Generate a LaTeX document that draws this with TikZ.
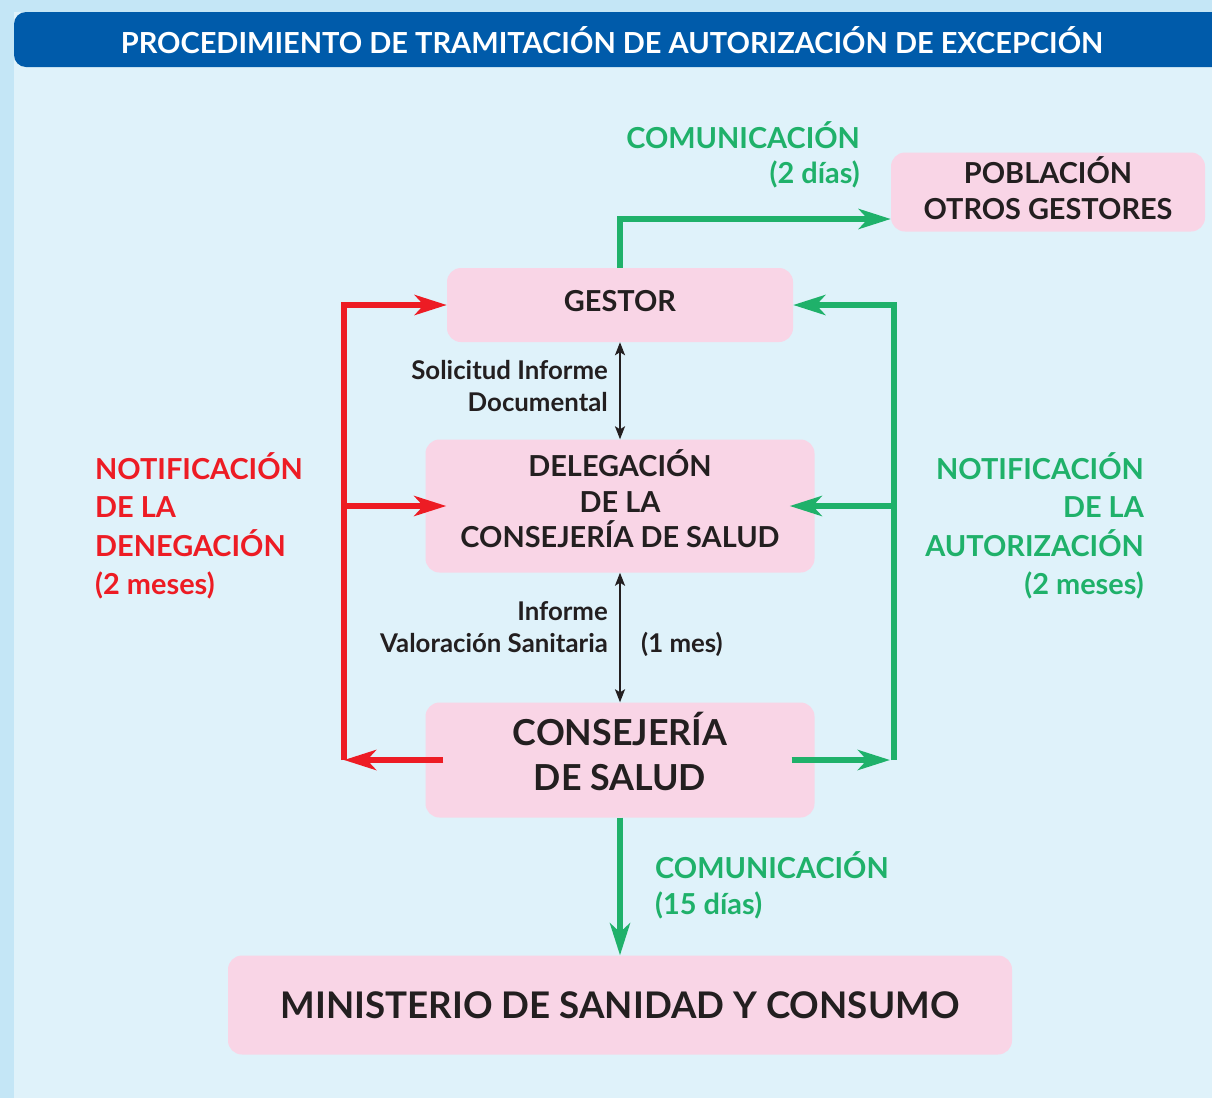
\documentclass[tikz,border=0pt]{standalone}
\usepackage{fontspec}
\setmainfont{Lato}
\usetikzlibrary{arrows.meta}

\definecolor{bgblue}{RGB}{196,230,246}
\definecolor{panelblue}{RGB}{223,242,250}
\definecolor{headblue}{RGB}{0,91,170}
\definecolor{boxpink}{RGB}{249,213,230}
\definecolor{denyred}{RGB}{237,28,36}
\definecolor{okgreen}{RGB}{31,177,106}
\definecolor{inkblack}{RGB}{35,31,32}

% extra depth under the last line, lifts the text in its box
\newcommand{\liftby}[1]{\rule[-#1]{0pt}{0pt}}

\begin{document}
\begin{tikzpicture}[x=1pt, y=-1pt,
          box/.style={fill=boxpink, rounded corners=14pt, inner sep=0pt, align=center, text=inkblack,
                      font=\bfseries\fontsize{28.9}{35.5}\selectfont},
          redtext/.style={text=denyred, inner sep=0pt, font=\bfseries\fontsize{28.9}{38.5}\selectfont},
          greentext/.style={text=okgreen, inner sep=0pt, font=\bfseries\fontsize{28.9}{38.5}\selectfont},
          note/.style={text=inkblack, inner sep=0pt, font=\bfseries\fontsize{25.8}{32}\selectfont},
          redarrow/.style={draw=denyred, line width=6.5pt, -{Stealth[length=32pt, width=20pt, inset=9pt]}},
          greenarrow/.style={draw=okgreen, line width=6.5pt, -{Stealth[length=32pt, width=20pt, inset=9pt]}},
          dblarrow/.style={draw=inkblack, line width=2pt, {Stealth[length=13pt, width=10pt, inset=3pt]}-{Stealth[length=13pt, width=10pt, inset=3pt]}}
        ]
          \useasboundingbox (0,0) rectangle (1212,1098);

          % Background and title band
          \fill[bgblue] (0,0) rectangle (1212,1098);
          \fill[panelblue] (14,12) rectangle (1212,1098);
          \fill[headblue, rounded corners=12pt] (14,12) rectangle (1240,67);
          \node[text=white, font=\bfseries\fontsize{29}{34}\selectfont] (title) at (612,40)
            {PROCEDIMIENTO DE TRAMITACIÓN DE AUTORIZACIÓN DE EXCEPCIÓN};

          % Boxes
          \node[box, minimum width=314pt, minimum height=79pt] (poblacion) at (1048,192) {POBLACIÓN\\OTROS GESTORES\liftby{8pt}};
          \node[box, minimum width=346pt, minimum height=74pt] (gestor) at (620,305) {GESTOR\liftby{8pt}};
          \node[box, minimum width=389pt, minimum height=133pt] (delegacion) at (620,506) {DELEGACIÓN\\DE LA\\CONSEJERÍA DE SALUD\liftby{14pt}};
          \node[box, minimum width=389pt, minimum height=115pt, font=\bfseries\fontsize{35.8}{45}\selectfont] (consejeria) at (620,760) {CONSEJERÍA\\DE SALUD\liftby{17pt}};
          \node[box, minimum width=784pt, minimum height=99pt, font=\bfseries\fontsize{36.7}{42}\selectfont] (ministerio) at (620,1005) {MINISTERIO DE SANIDAD Y CONSUMO};

          % Side rails
          \coordinate (redx) at (344,0);
          \coordinate (greenx) at (894,0);

          % Communication to population
          \draw[greenarrow] (gestor.north) |- ([yshift=-27pt]poblacion.west);
          \node[greentext, align=right, anchor=east, font=\bfseries\fontsize{28.9}{35}\selectfont] (comlabel) at (860,155) {COMUNICACIÓN\\(2 días)};

          % Denial path
          \draw[redarrow] (consejeria.west -| redx) -- (gestor.west -| redx) -- (gestor.west);
          \draw[redarrow] (delegacion.west -| redx) -- ([xshift=21pt]delegacion.west);
          \draw[redarrow] ([xshift=18pt]consejeria.west) -- (consejeria.west -| redx);
          \node[redtext, align=left, anchor=west] (denylabel) at (95,526) {NOTIFICACIÓN\\DE LA\\DENEGACIÓN\\(2 meses)};

          % Authorisation path
          \draw[greenarrow] (consejeria.east -| greenx) -- (gestor.east -| greenx) -- (gestor.east);
          \draw[greenarrow] (delegacion.east -| greenx) -- ([xshift=-25pt]delegacion.east);
          \draw[greenarrow] ([xshift=-23pt]consejeria.east) -- ([xshift=-4pt]consejeria.east -| greenx);
          \node[greentext, align=right, anchor=east] (oklabel) at (1144,526) {NOTIFICACIÓN\\DE LA\\AUTORIZACIÓN\\(2 meses)};

          % Reports between offices
          \draw[dblarrow] (gestor.south) -- (delegacion.north);
          \node[note, align=right, anchor=east] (solicitud) at (608,386) {Solicitud Informe\\Documental};
          \draw[dblarrow] (delegacion.south) -- (consejeria.north);
          \node[note, align=right, anchor=east] (valoracion) at (608,627) {Informe\\Valoración Sanitaria};
          \node[note, anchor=west] (plazo) at (641,644) {(1 mes)};

          % Communication to the ministry
          \draw[greenarrow] (consejeria.south) -- (ministerio.north);
          \node[greentext, align=left, anchor=west, font=\bfseries\fontsize{28.9}{36}\selectfont] (comlabel2) at (655,885) {COMUNICACIÓN\\(15 días)};

        \end{tikzpicture}
\end{document}
